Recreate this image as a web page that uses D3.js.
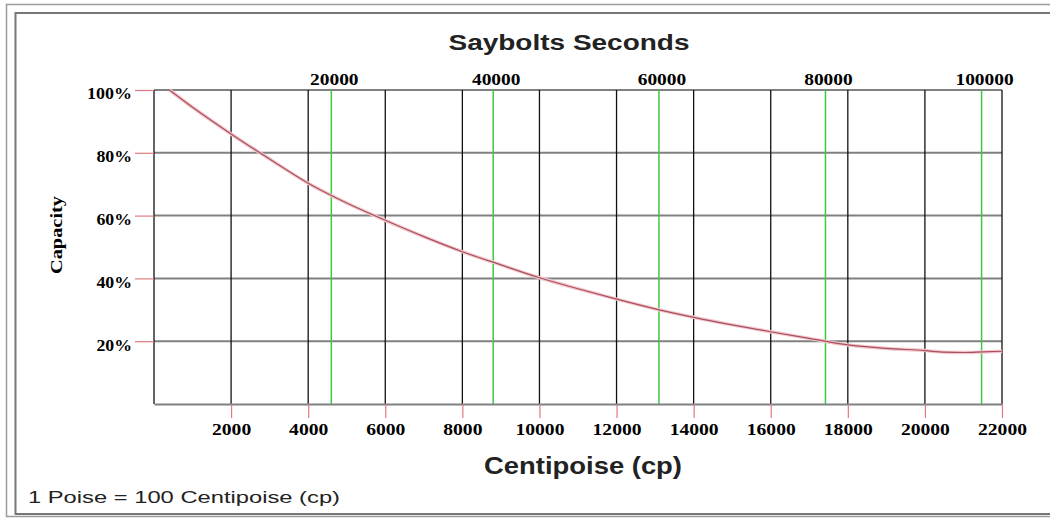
<!DOCTYPE html>
<html>
<head>
<meta charset="utf-8">
<script src="https://cdn.jsdelivr.net/npm/d3@7"></script>
<style>
  html, body { margin: 0; padding: 0; background: #fff; }
  svg { display: block; }
</style>
</head>
<body>
<svg id="chart" width="1050" height="520"></svg>
<script>
// ---- data ----
const centipoise = [400, 1000, 2000, 3000, 4000, 5000, 6000, 7000, 8000, 9000, 10000, 11000, 12000, 13000, 14000, 15000, 16000, 17000, 18000, 19000, 20000, 20500, 21000, 21500, 22000];
const capacity   = [100, 94.5, 86, 78, 70.3, 64, 58.5, 53.3, 48.5, 44.3, 40.2, 36.7, 33.4, 30.3, 27.6, 25.2, 23, 20.9, 18.8, 17.7, 17.0, 16.5, 16.4, 16.6, 16.8];
const xTicks = [2000, 4000, 6000, 8000, 10000, 12000, 14000, 16000, 18000, 20000, 22000];
const yTicks = [20, 40, 60, 80, 100];
const sayboltLabels = [20000, 40000, 60000, 80000, 100000];
const sayboltAtCp   = [4600, 8800, 13100, 17420, 21470];

const svg = d3.select("#chart");

// frame
svg.append("rect").attr("x", 6.5).attr("y", 4.5).attr("width", 1060).attr("height", 512)
  .attr("fill", "none").attr("stroke", "#9a9a9a").attr("stroke-width", 1.5);
svg.append("rect").attr("x", 15.5).attr("y", 13).attr("width", 1060).attr("height", 501)
  .attr("fill", "none").attr("stroke", "#777").attr("stroke-width", 2);

const x = d3.scaleLinear().domain([0, 22000]).range([154, 1002]);
const y = d3.scaleLinear().domain([0, 100]).range([404, 90]);

const serif = "'Liberation Serif', 'Times New Roman', serif";
const sans = "'Liberation Sans', Arial, sans-serif";

// horizontal grid
svg.append("g").selectAll("line").data(yTicks).join("line")
  .attr("x1", x(0)).attr("x2", x(22000))
  .attr("y1", d => y(d)).attr("y2", d => y(d))
  .attr("stroke", "#808080").attr("stroke-width", 2);

// vertical grid
svg.append("g").selectAll("line").data([0].concat(xTicks)).join("line")
  .attr("x1", d => x(d)).attr("x2", d => x(d))
  .attr("y1", y(100)).attr("y2", y(0))
  .attr("stroke", "#111").attr("stroke-width", 1.3);

// green Saybolt lines
svg.append("g").selectAll("line").data(sayboltAtCp).join("line")
  .attr("x1", d => x(d)).attr("x2", d => x(d))
  .attr("y1", y(100)).attr("y2", y(0))
  .attr("stroke", "#3ec83e").attr("stroke-width", 1.5);

// bottom axis
const xAxis = svg.append("g").attr("transform", `translate(0,${y(0)})`)
  .call(d3.axisBottom(x).tickValues(xTicks).tickSize(14).tickSizeOuter(0).tickPadding(6).tickFormat(d3.format("d")));
xAxis.select(".domain").attr("stroke", "#808080").attr("stroke-width", 2);
xAxis.selectAll(".tick line").attr("stroke", "#e07a80").attr("stroke-width", 1.2);
xAxis.selectAll(".tick text")
  .attr("font-family", serif).attr("font-weight", "bold").attr("font-size", 16)
  .attr("fill", "#000").attr("text-anchor", "middle")
  .attr("textLength", d => String(d).length * 9.8).attr("lengthAdjust", "spacingAndGlyphs");

// left axis
const yAxis = svg.append("g").attr("transform", `translate(${x(0)},0)`)
  .call(d3.axisLeft(y).tickValues(yTicks).tickSize(19).tickSizeOuter(0).tickPadding(3).tickFormat(d => d + "%"));
yAxis.select(".domain").remove();
yAxis.selectAll(".tick line").attr("stroke", "#e07a80").attr("stroke-width", 1.2);
yAxis.selectAll(".tick text")
  .attr("font-family", serif).attr("font-weight", "bold").attr("font-size", 16)
  .attr("fill", "#000").attr("dy", "0.55em")
  .attr("textLength", d => (String(d).length * 9.3 + 17)).attr("lengthAdjust", "spacingAndGlyphs");

// top Saybolt labels
svg.append("g").selectAll("text").data(sayboltLabels).join("text")
  .attr("x", (d, i) => x(sayboltAtCp[i]) + 3).attr("y", 85)
  .attr("text-anchor", "middle")
  .attr("font-family", serif).attr("font-weight", "bold").attr("font-size", 16)
  .attr("textLength", d => String(d).length * 9.7).attr("lengthAdjust", "spacingAndGlyphs")
  .text(d => d);

// curve
const line = d3.line().x(d => x(d[0])).y(d => y(d[1])).curve(d3.curveMonotoneX);
const pts = centipoise.map((c, i) => [c, capacity[i]]);
svg.append("path").datum(pts).attr("d", line)
  .attr("fill", "none").attr("stroke", "#f3c6cc").attr("stroke-width", 3.5);
svg.append("path").datum(pts).attr("d", line)
  .attr("fill", "none").attr("stroke", "#a8505e").attr("stroke-width", 1.2);

// titles
svg.append("text").attr("x", 569).attr("y", 50).attr("text-anchor", "middle")
  .attr("font-family", sans).attr("font-weight", "bold").attr("font-size", 22).attr("fill", "#222")
  .attr("textLength", 241).attr("lengthAdjust", "spacingAndGlyphs")
  .text("Saybolts Seconds");

svg.append("text").attr("x", 583).attr("y", 474).attr("text-anchor", "middle")
  .attr("font-family", sans).attr("font-weight", "bold").attr("font-size", 23).attr("fill", "#222")
  .attr("textLength", 198).attr("lengthAdjust", "spacingAndGlyphs")
  .text("Centipoise (cp)");

svg.append("text").attr("transform", "translate(62,235) rotate(-90)").attr("text-anchor", "middle")
  .attr("font-family", serif).attr("font-weight", "bold").attr("font-size", 17).attr("fill", "#000")
  .attr("textLength", 78).attr("lengthAdjust", "spacingAndGlyphs")
  .text("Capacity");

svg.append("text").attr("x", 28).attr("y", 503)
  .attr("font-family", sans).attr("font-size", 17).attr("fill", "#222")
  .attr("textLength", 312).attr("lengthAdjust", "spacingAndGlyphs")
  .text("1 Poise = 100 Centipoise (cp)");
</script>
</body>
</html>
